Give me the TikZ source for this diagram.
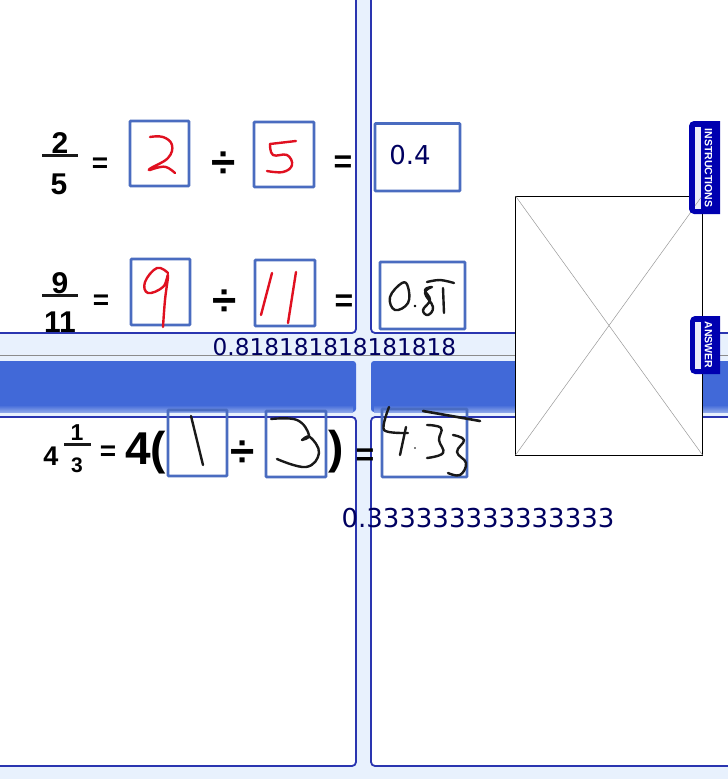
\documentclass[tikz,border=0pt]{standalone}
\usepackage{fontspec}
\setmainfont{Liberation Sans}
\newfontfamily\handfont{DejaVu Sans}
\definecolor{gutter}{HTML}{E8F1FD}
\definecolor{edge}{HTML}{2A35B0}
\definecolor{stripe}{HTML}{4169D8}
\definecolor{boxline}{HTML}{4A6CC0}
\definecolor{navy}{HTML}{000060}
\definecolor{tab}{HTML}{0000B0}
\definecolor{pen}{HTML}{E01020}
\newcommand{\fs}[1]{\fontsize{#1}{#1}\selectfont}
\tikzset{
  panel/.style={draw=edge,fill=white,line width=1.8pt,rounded corners=4pt},
  band/.style={fill=stripe,rounded corners=3pt},
  answerbox/.style={draw=boxline,line width=2.8pt,rounded corners=0.8pt},
  redink/.style={draw=pen,line width=2.4pt,line cap=round,line join=round},
  blackink/.style={draw=black!90,line width=2.4pt,line cap=round,line join=round},
  mathtxt/.style={inner sep=0pt,font=\bfseries},
  hand/.style={inner sep=0pt,text=navy,font=\handfont},
  fracbar/.style={draw=black!90,line width=3pt},
  tabshape/.style={fill=tab,rounded corners=5pt},
  tabtext/.style={inner sep=0pt,text=white,rotate=-90,font=\bfseries\fs{10.5}},
}
\begin{document}
\begin{tikzpicture}[x=1pt,y=-1pt]
\useasboundingbox (0,0) rectangle (728,779);
\clip (0,0) rectangle (728,779);
\fill[gutter] (0,0) rectangle (728,779);
% panels
\draw[panel] (-12,-12) rectangle (356,333);
\draw[panel] (371,-12) rectangle (740,333);
\draw[panel] (-12,417) rectangle (356,766);
\draw[panel] (371,417) rectangle (740,766);
% stripe
\draw[draw=black!45,line width=0.8pt] (0,355.5) -- (728,355.5);
\fill[band] (-12,361) rectangle (356,412);
\fill[band] (371,361) rectangle (740,412);
\shade[top color=stripe,bottom color=stripe!55!gutter] (0,405) rectangle (353,412);
\shade[top color=stripe,bottom color=stripe!55!gutter] (374,405) rectangle (728,412);
% row one
\node[mathtxt,font=\bfseries\fs{30}] (n1) at (60,143.5) {2};
\draw[fracbar] (42,155.5) -- (78,155.5);
\node[mathtxt,font=\bfseries\fs{30}] (d1) at (59,184) {5};
\node[mathtxt,font=\bfseries\fs{28}] (e1) at (100,165) {=};
\node[mathtxt,font=\bfseries\fs{44}] (div1) at (224,165) {÷};
\node[mathtxt,font=\bfseries\fs{32}] (e2) at (343,164) {=};
% row two
\node[mathtxt,font=\bfseries\fs{30}] (n2) at (60,283) {9};
\draw[fracbar] (42,295.5) -- (78,295.5);
\node[mathtxt,font=\bfseries\fs{30}] (d2) at (60,322) {11};
\node[mathtxt,font=\bfseries\fs{28}] (e3) at (101,302.5) {=};
\node[mathtxt,font=\bfseries\fs{44}] (div2) at (225,303) {÷};
\node[mathtxt,font=\bfseries\fs{32}] (e4) at (344,303) {=};
% row three
\node[mathtxt,font=\bfseries\fs{27}] (w3) at (51,456) {4};
\node[mathtxt,font=\bfseries\fs{23}] (n3) at (77,433) {1};
\draw[fracbar] (64,444) -- (91,444);
\node[mathtxt,font=\bfseries\fs{21}] (d3) at (77,465) {3};
\node[mathtxt,font=\bfseries\fs{28}] (e5) at (108,453) {=};
\node[mathtxt,font=\bfseries\fs{46},anchor=west] (four) at (125,453) {4(};
\node[mathtxt,font=\bfseries\fs{44}] (div3) at (243,454) {÷};
\node[mathtxt,font=\bfseries\fs{46}] (close) at (336,452) {)};
\node[mathtxt,font=\bfseries\fs{32}] (e6) at (365,457) {=};
% boxes
\draw[answerbox] (130,121) rectangle (189,186);
\draw[answerbox] (254,122) rectangle (314,187);
\draw[answerbox] (375,123.5) rectangle (460,191);
\draw[answerbox] (131,259) rectangle (190,325);
\draw[answerbox] (255,260) rectangle (315,326);
\draw[answerbox] (380,262) rectangle (465,329);
\draw[answerbox] (168,410) rectangle (227,476);
\draw[answerbox] (266,411) rectangle (326,477);
\draw[answerbox] (382,409) rectangle (467,477);
% red handwriting
\draw[redink] plot[smooth,tension=0.7] coordinates {(150,137)(163,137)(172,145)(168,158)(151,168)(150,170)(156,168)(166,167)(175,173)};
\draw[redink] (296,141) -- (270,144);
\draw[redink] plot[smooth,tension=0.7] coordinates {(270,144)(273,155)(287,155)(292,165)(283,172)(267,171)};
\draw[redink] plot[smooth,tension=0.7] coordinates {(168,273)(157,268)(145,282)(148,293)(163,287)(168,275)(165,300)(163,327)};
\draw[redink] (272,273) -- (261,315);
\draw[redink] (296,272) -- (288,323);
% black handwriting
\draw[blackink] plot[smooth cycle,tension=0.7] coordinates {(402,283)(390,297)(395,310)(408,303)(408,287)};
\fill[black] (415,306) circle (1.3);
\draw[blackink] plot[smooth,tension=0.7] coordinates {(432,287)(425,290)(430,300)(423,310)(428,315)(433,307)(425,293)(432,287)};
\draw[blackink] (443,288) -- (444,313);
\draw[blackink] plot[smooth,tension=0.6] coordinates {(427,282)(440,280)(454,283)};
\draw[blackink] (191,416) -- (203,465);
\draw[blackink] plot[smooth,tension=0.7] coordinates {(271,419)(297,420)(309,435)(302,440)(310,437)(319,453)(306,467)(277,459)};
\draw[blackink] plot[smooth,tension=0.5] coordinates {(389,407)(384,430)(408,433)};
\draw[blackink] (406,427) -- (400,455);
\fill[black] (415,448) circle (0.9);
\draw[blackink] plot[smooth,tension=0.7] coordinates {(427,425)(441,428)(439,440)(443,453)(427,458)};
\draw[blackink] plot[smooth,tension=0.7] coordinates {(453,435)(464,440)(457,452)(466,463)(460,475)(448,473)};
\draw[blackink,line width=2.6pt] (423,411) -- (480,421);
% typed decimals
\node[hand,font=\handfont\fs{26}] (v1) at (410,155.5) {0.4};
\node[hand,font=\handfont\fs{23.2}] (v2) at (334.5,347) {0.818181818181818};
\node[hand,font=\handfont\fs{26}] (v3) at (478,518) {0.333333333333333};
% image placeholder
\draw[fill=white,draw=black,line width=0.8pt] (515.5,196) rectangle (702.5,455);
\draw[black!40,line width=0.5pt] (515.5,196) -- (702.5,455);
\draw[black!40,line width=0.5pt] (702.5,196) -- (515.5,455);
% tabs
\begin{scope}
\clip (680,100) rectangle (720,400);
\fill[tabshape] (689,121) rectangle (735,214);
\fill[tabshape] (690,316) rectangle (735,374);
\end{scope}
\fill[white!92!tab] (695,127) rectangle (701,209);
\draw[black!40,line width=0.5pt] (695,205.7) -- (701,197.5);
\node[tabtext] (instr) at (708.5,168) {INSTRUCTIONS};
\fill[white!92!tab] (695,322) rectangle (701,369);
\node[tabtext] (ans) at (708.5,345) {ANSWER};
\end{tikzpicture}
\end{document}
